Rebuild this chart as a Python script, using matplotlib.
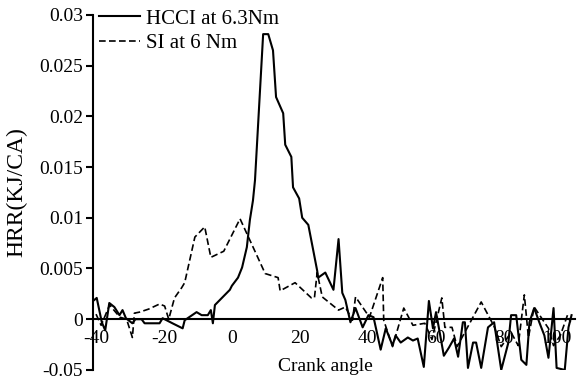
import matplotlib
matplotlib.use("Agg")
import matplotlib.pyplot as plt

# HRR curves (crank angle, kJ/CA)
hcci_ca = [-40.5, -39.8, -38.3, -37.3, -36.1, -34.6, -33.1, -32.2, -31.2, -29.3,
           -28.4, -26.6, -25.7, -21.3, -20.4, -17.5, -14.5, -13.9, -10.4, -8.9,
           -7.1, -6.2, -5.6, -5.0, -0.6, 0.0, 1.8, 3.0, 4.4, 5.3,
           6.2, 6.8, 9.2, 10.7, 12.1, 13.0, 15.1, 15.7, 17.5, 18.0,
           19.8, 20.7, 22.5, 25.1, 25.4, 27.5, 29.9, 31.4, 32.5, 33.4,
           34.9, 36.4, 38.5, 40.2, 41.7, 43.8, 45.3, 47.3, 48.2, 49.7,
           51.8, 53.3, 54.7, 56.5, 58.0, 59.2, 60.1, 61.5, 62.4, 63.9,
           65.4, 66.6, 68.0, 68.6, 69.5, 71.0, 71.9, 73.4, 75.4, 77.2,
           79.3, 81.4, 82.2, 83.7, 85.2, 86.7, 87.6, 89.0, 90.5, 92.0,
           93.2, 94.1, 94.7, 95.6, 98.0, 99.1, 100.0]
hcci_hrr = [0.0019, 0.0021, -0.0003, -0.0011, 0.0016, 0.0012, 0.0004, 0.0009, 0.0001, -0.0004,
            0.0, 0.0, -0.0004, -0.0004, 0.0001, -0.0004, -0.0009, -0.0001, 0.0007, 0.0004,
            0.0004, 0.0009, -0.0004, 0.0014, 0.0029, 0.0033, 0.0041, 0.0051, 0.0071, 0.0098,
            0.0117, 0.0137, 0.0281, 0.0281, 0.0265, 0.0219, 0.0203, 0.0172, 0.0160, 0.0130,
            0.0119, 0.0100, 0.0093, 0.0048, 0.0041, 0.0046, 0.0029, 0.0079, 0.0026, 0.0019,
            -0.0003, 0.0011, -0.0008, 0.0004, 0.0002, -0.0030, -0.0009, -0.0026, -0.0016, -0.0023,
            -0.0018, -0.0021, -0.0019, -0.0047, 0.0018, -0.0009, 0.0007, -0.0019, -0.0036, -0.0028,
            -0.0019, -0.0037, -0.0003, -0.0003, -0.0048, -0.0023, -0.0023, -0.0048, -0.0008, -0.0003,
            -0.0050, -0.0023, 0.0004, 0.0004, -0.0040, -0.0045, -0.0003, 0.0011, -0.0003, -0.0016,
            -0.0038, -0.0009, 0.0011, -0.0048, -0.0050, -0.0008, 0.0004]

si_ca = [-40.0, -38.5, -36.0, -33.0, -31.0, -29.3, -28.7, -27.2, -24.5, -21.3,
         -19.8, -18.6, -16.9, -14.8, -13.9, -10.9, -8.0, -6.2, -2.4, 2.4,
         9.8, 13.6, 14.2, 18.6, 23.4, 24.3, 25.1, 26.6, 31.4, 33.4,
         35.5, 36.4, 40.5, 44.4, 44.7, 47.3, 50.6, 53.3, 56.8, 58.9,
         61.8, 62.7, 64.8, 66.3, 73.4, 77.2, 79.3, 82.2, 84.3, 86.1,
         87.3, 89.0, 93.2, 94.7, 96.7, 98.8, 99.7]
si_hrr = [0.0005, -0.0006, 0.0014, 0.0002, 0.0, -0.0018, 0.0006, 0.0007, 0.0010, 0.0015,
          0.0013, 0.0, 0.0021, 0.0031, 0.0036, 0.0081, 0.0091, 0.0061, 0.0067, 0.0099,
          0.0045, 0.0041, 0.0028, 0.0036, 0.0021, 0.0021, 0.0046, 0.0022, 0.0009, 0.0012,
          -0.0001, 0.0022, 0.0002, 0.0041, -0.0001, -0.0027, 0.0011, -0.0006, -0.0004, -0.0020,
          0.0021, -0.0008, -0.0008, -0.0027, 0.0017, -0.0007, -0.0027, -0.0013, -0.0026, 0.0024,
          -0.0018, 0.0012, -0.0009, -0.0026, -0.0016, 0.0004, -0.0003]

y_ticks = [-0.005, 0, 0.005, 0.01, 0.015, 0.02, 0.025, 0.03]
y_tick_labels = ["-0.05", "0", "0.005", "0.01", "0.015", "0.02", "0.025", "0.03"]
x_ticks = [-40, -20, 0, 20, 40, 60, 80, 100]

plt.rcParams["font.family"] = ["Liberation Serif", "DejaVu Serif"]
plt.rcParams["axes.unicode_minus"] = False

fig = plt.figure(figsize=(5.79, 3.81), dpi=100)
ax = fig.add_axes([0.160, 0.029, 0.833, 0.932])

ax.plot(hcci_ca, hcci_hrr, color="black", linewidth=1.5, label="HCCI at 6.3Nm")
ax.plot(si_ca, si_hrr, color="black", linewidth=1.2, linestyle=(0, (4, 2)),
        label="SI at 6 Nm")

ax.set_xlim(-41, 101)
ax.set_ylim(-0.005, 0.03)

ax.spines["right"].set_visible(False)
ax.spines["top"].set_visible(False)
ax.spines["bottom"].set_position(("data", 0))
ax.spines["left"].set_linewidth(1.5)
ax.spines["bottom"].set_linewidth(1.5)

ax.set_yticks(y_ticks)
ax.set_yticklabels(y_tick_labels, fontsize=14)
ax.tick_params(axis="y", direction="out", length=5, width=1.5, pad=2)
ax.set_xticks(x_ticks)
ax.set_xticklabels([str(t) for t in x_ticks], fontsize=14)
ax.tick_params(axis="x", length=0, pad=8)
ax.get_xticklabels()[-1].set_horizontalalignment("right")

ax.set_ylabel("HRR(KJ/CA)", fontsize=17)
ax.yaxis.set_label_coords(-0.135, 0.5)
ax.text(27.5, -0.0047, "Crank angle", ha="center", va="center", fontsize=14)

ax.legend(loc="upper left", bbox_to_anchor=(-0.005, 1.04), frameon=False, fontsize=15,
          handlelength=2.0, handletextpad=0.3, labelspacing=0.25, borderaxespad=0.0)

fig.savefig("out.png", dpi=100)
